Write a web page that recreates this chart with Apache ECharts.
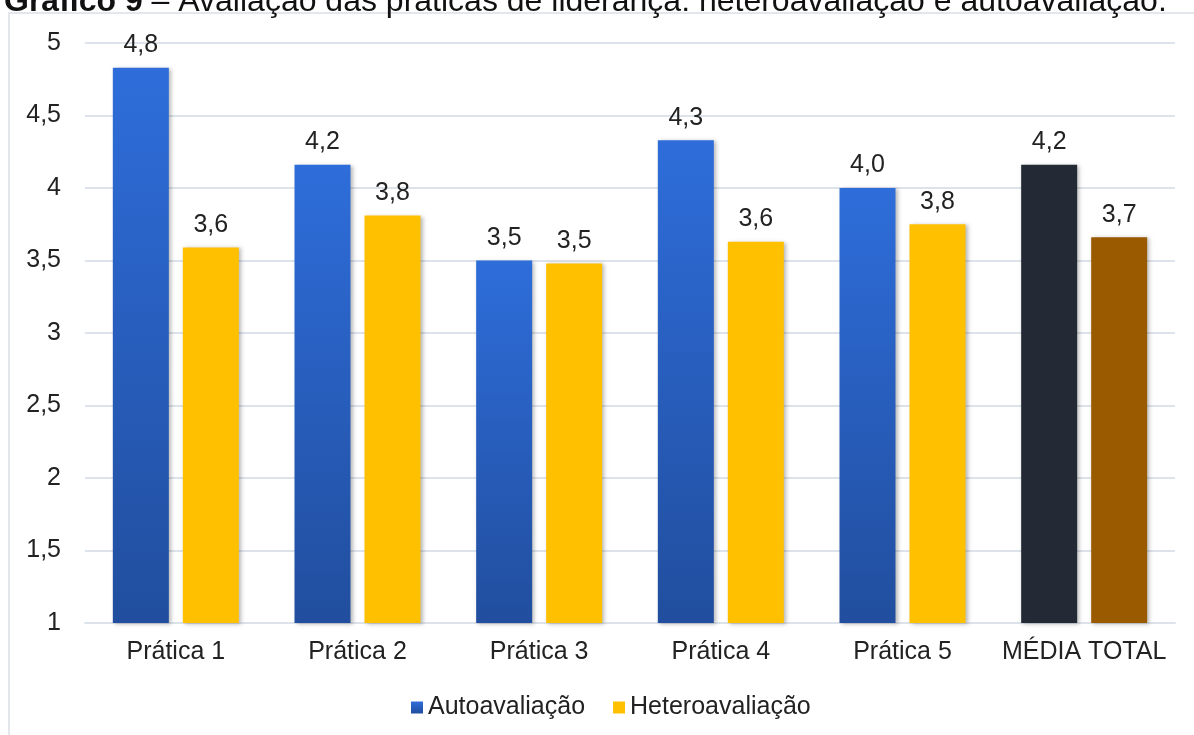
<!DOCTYPE html>
<html>
<head>
<meta charset="utf-8">
<script src="https://cdn.jsdelivr.net/npm/echarts@6/dist/echarts.min.js"></script>
<style>
  html, body { margin: 0; padding: 0; background: #fff; }
  #chart { width: 1194px; height: 735px; }
</style>
</head>
<body>
<div id="chart"></div>
<script>
// dados
const categorias = ['Prática 1', 'Prática 2', 'Prática 3', 'Prática 4', 'Prática 5', 'MÉDIA TOTAL'];
const autoavaliacao = [4.83, 4.16, 3.50, 4.33, 4.00, 4.16];
const heteroavaliacao = [3.59, 3.81, 3.48, 3.63, 3.75, 3.66];
const yTicks = { min: 1, max: 5, interval: 0.5 };

const fonte = 'Liberation Sans, Arial, sans-serif';
const azul = new echarts.graphic.LinearGradient(0, 0, 0, 1, [
  { offset: 0, color: '#2E6DDA' },
  { offset: 1, color: '#214E9E' }
]);
const amarelo = '#FFC000';
const sombra = { shadowColor: 'rgba(0,0,0,0.28)', shadowBlur: 4, shadowOffsetX: 2, shadowOffsetY: 1 };

const fmt = v => v.toFixed(1).replace('.', ',');

// o último grupo (média) tem cores próprias
const dadosAuto = autoavaliacao.map((v, i) => i === categorias.length - 1
  ? { value: v, itemStyle: { color: '#232A35' } } : v);
const dadosHetero = heteroavaliacao.map((v, i) => i === categorias.length - 1
  ? { value: v, itemStyle: { color: '#9A5B00' } } : v);

const labelStyle = {
  show: true,
  position: 'top',
  distance: 10,
  fontFamily: fonte,
  fontSize: 25,
  color: '#222',
  formatter: p => fmt(p.value)
};

const chart = echarts.init(document.getElementById('chart'));
chart.setOption({
  animation: false,
  textStyle: { fontFamily: fonte },
  graphic: [
    {
      type: 'rect',
      shape: { x: 9, y: 13, width: 1300, height: 800 },
      style: { fill: 'none', stroke: '#E3E6EC', lineWidth: 2 },
      silent: true
    },
    {
      type: 'text',
      left: 4,
      top: -14,
      style: {
        text: '{b|Gráfico 9} – Avaliação das práticas de liderança: heteroavaliação e autoavaliação.',
        fontFamily: fonte,
        fontSize: 32,
        fill: '#111',
        rich: { b: { fontWeight: 'bold', fontSize: 32, fontFamily: fonte, fill: '#111' } }
      }
    }
  ],
  grid: { left: 85, right: 19, top: 43, bottom: 112 },
  legend: {
    top: 690,
    left: 406,
    itemWidth: 12,
    itemHeight: 12,
    itemGap: 28,
    icon: 'rect',
    textStyle: { fontFamily: fonte, fontSize: 25, color: '#222' },
    data: ['Autoavaliação', 'Heteroavaliação']
  },
  xAxis: {
    type: 'category',
    data: categorias,
    axisLine: { lineStyle: { color: '#DDE3EA', width: 2 } },
    axisTick: { show: false },
    axisLabel: { fontFamily: fonte, fontSize: 25, color: '#222', margin: 17, interval: 0 }
  },
  yAxis: {
    type: 'value',
    min: yTicks.min,
    max: yTicks.max,
    interval: yTicks.interval,
    axisLine: { show: false },
    axisTick: { show: false },
    splitLine: { lineStyle: { color: '#DDE3EA', width: 2 } },
    axisLabel: { fontFamily: fonte, fontSize: 25, color: '#222', margin: 24, formatter: v => String(v).replace('.', ',') }
  },
  series: [
    {
      name: 'Autoavaliação',
      type: 'bar',
      data: dadosAuto,
      barWidth: 56,
      barGap: '25%',
      itemStyle: Object.assign({ color: azul }, sombra),
      label: labelStyle
    },
    {
      name: 'Heteroavaliação',
      type: 'bar',
      data: dadosHetero,
      barWidth: 56,
      itemStyle: Object.assign({ color: amarelo }, sombra),
      label: labelStyle
    }
  ]
});
</script>
</body>
</html>
